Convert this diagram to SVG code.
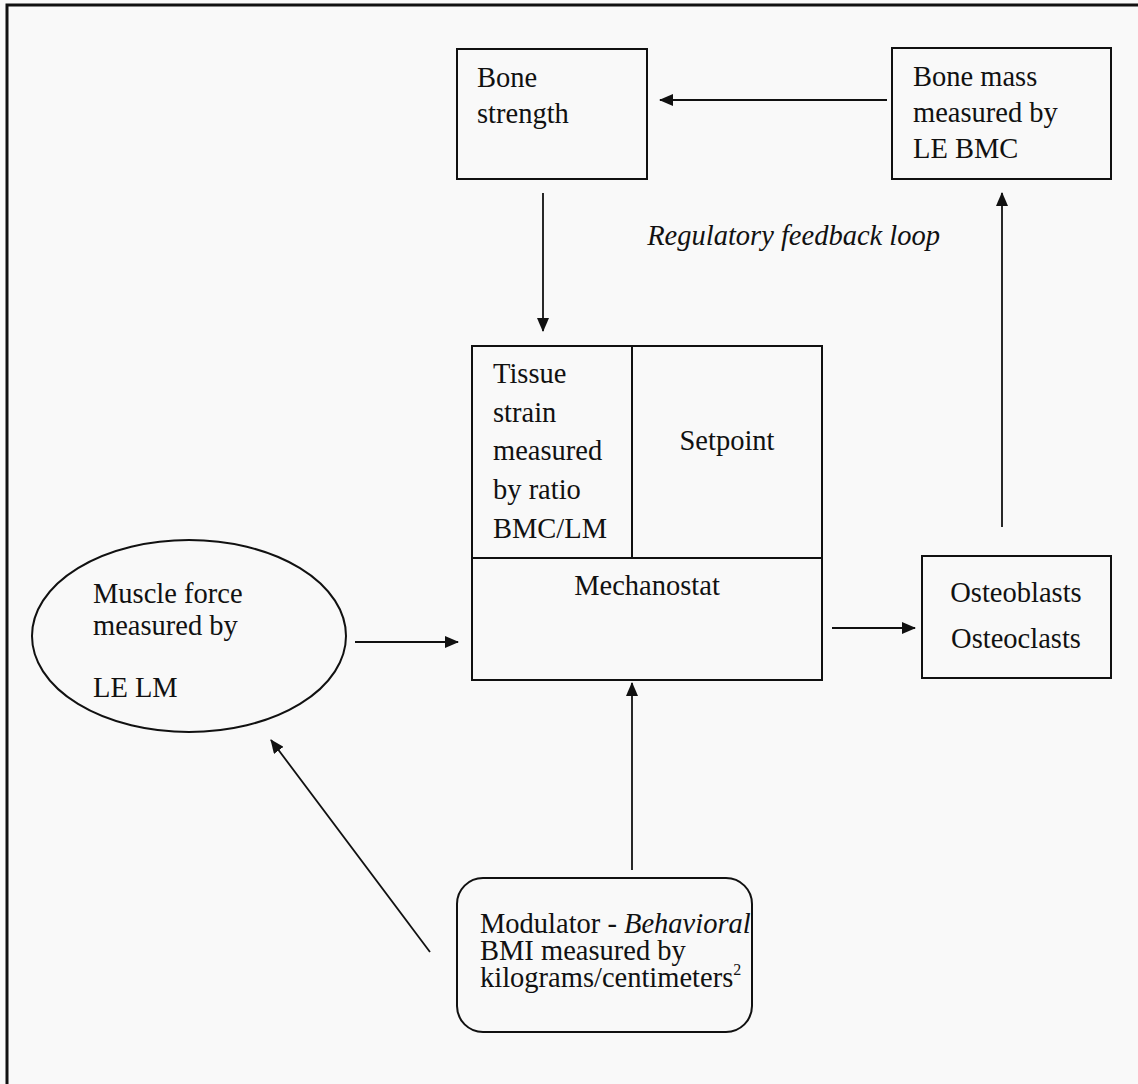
<svg xmlns="http://www.w3.org/2000/svg" width="1138" height="1084" viewBox="0 0 1138 1084">
<style>
.t{font-family:"Liberation Serif","Times New Roman",serif;font-size:28.5px;fill:#111}
.i{font-style:italic}
.box{fill:none;stroke:#111;stroke-width:2}
.ln{fill:none;stroke:#111;stroke-width:1.8}
</style>
<defs>
<marker id="ah" viewBox="0 0 14 12" refX="13" refY="6" markerWidth="14" markerHeight="12" markerUnits="userSpaceOnUse" orient="auto">
<path d="M0,0 L14,6 L0,12 Z" fill="#111"/>
</marker>
</defs>
<rect x="0" y="0" width="1138" height="1084" fill="#f9f9f9"/>
<path d="M7,1084 V5 H1138" fill="none" stroke="#111" stroke-width="3"/>
<g id="connectors">
<line class="ln" x1="887" y1="100" x2="660" y2="100" marker-end="url(#ah)"/>
<line class="ln" x1="543" y1="193" x2="543" y2="331" marker-end="url(#ah)"/>
<line class="ln" x1="1002" y1="527" x2="1002" y2="193" marker-end="url(#ah)"/>
<line class="ln" x1="355" y1="642" x2="458" y2="642" marker-end="url(#ah)"/>
<line class="ln" x1="832" y1="628" x2="915" y2="628" marker-end="url(#ah)"/>
<line class="ln" x1="632" y1="870" x2="632" y2="683" marker-end="url(#ah)"/>
<line class="ln" x1="430" y1="952" x2="271" y2="740" marker-end="url(#ah)"/>
</g>
<g id="bone-strength">
<rect class="box" x="457" y="49" width="190" height="130"/>
<text class="t" x="477" y="87">Bone</text>
<text class="t" x="477" y="123">strength</text>
</g>
<g id="bone-mass">
<rect class="box" x="892" y="48" width="219" height="131"/>
<text class="t" x="913" y="86">Bone mass</text>
<text class="t" x="913" y="122">measured by</text>
<text class="t" x="913" y="158">LE BMC</text>
</g>
<g id="label-loop">
<text class="t i" x="940" y="245" text-anchor="end">Regulatory feedback loop</text>
</g>
<g id="mechanostat">
<rect class="box" x="472" y="346" width="350" height="334"/>
<line class="box" x1="632" y1="346" x2="632" y2="558"/>
<line class="box" x1="472" y1="558" x2="822" y2="558"/>
<text class="t" x="493" y="383">Tissue</text>
<text class="t" x="493" y="422">strain</text>
<text class="t" x="493" y="460">measured</text>
<text class="t" x="493" y="499">by ratio</text>
<text class="t" x="493" y="538">BMC/LM</text>
<text class="t" x="727" y="450" text-anchor="middle">Setpoint</text>
<text class="t" x="647" y="595" text-anchor="middle">Mechanostat</text>
</g>
<g id="muscle-force">
<ellipse class="box" cx="189" cy="636" rx="157" ry="96"/>
<text class="t" x="93" y="603">Muscle force</text>
<text class="t" x="93" y="635">measured by</text>
<text class="t" x="93" y="697">LE LM</text>
</g>
<g id="osteo">
<rect class="box" x="922" y="556" width="189" height="122"/>
<text class="t" x="1016" y="602" text-anchor="middle">Osteoblasts</text>
<text class="t" x="1016" y="648" text-anchor="middle">Osteoclasts</text>
</g>
<g id="modulator">
<rect class="box" x="457" y="878" width="295" height="154" rx="26" ry="26"/>
<text class="t" x="480" y="933">Modulator - <tspan class="i">Behavioral</tspan></text>
<text class="t" x="480" y="960">BMI measured by</text>
<text class="t" x="480" y="987">kilograms/centimeters<tspan style="font-size:16px" dy="-12">2</tspan></text>
</g>
</svg>
